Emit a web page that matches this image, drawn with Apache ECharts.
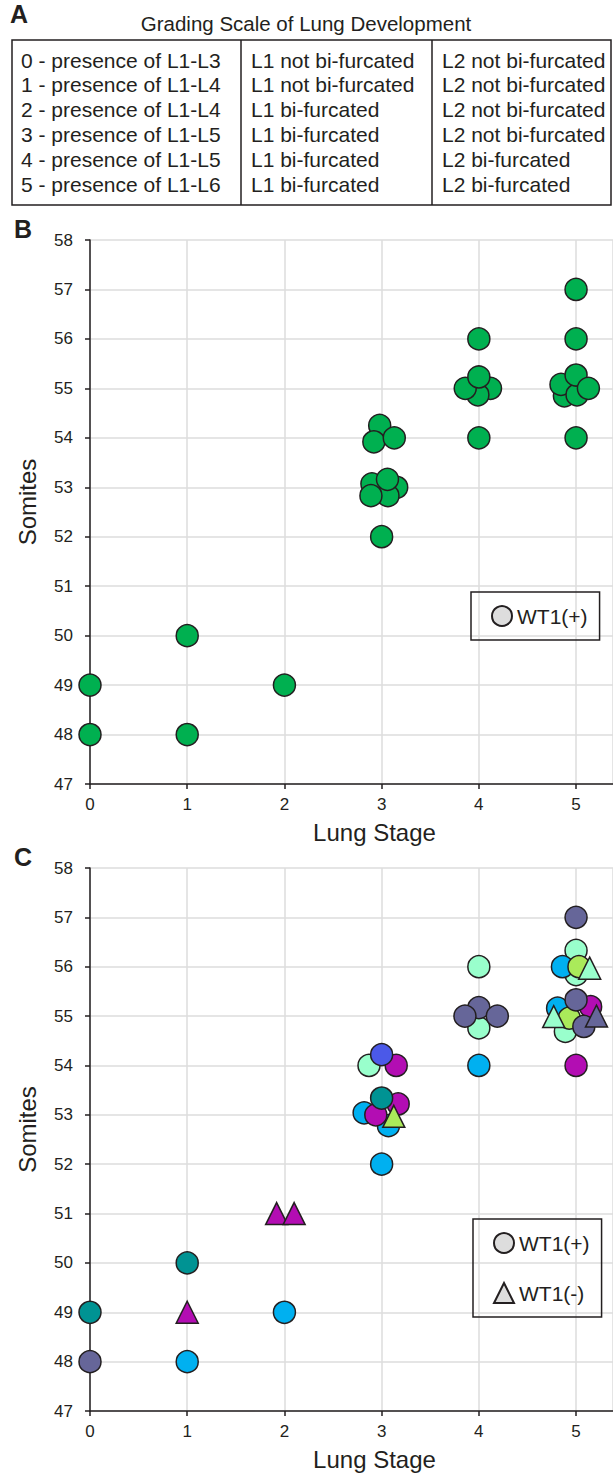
<!DOCTYPE html>
<html>
<head>
<meta charset="utf-8">
<script src="https://cdn.jsdelivr.net/npm/echarts@6/dist/echarts.min.js"></script>
<style>
html, body { margin: 0; padding: 0; background: #fff; }
#chart { width: 613px; height: 1476px; }
</style>
</head>
<body>
<div id="chart"></div>
<script>
// panel A: grading scale table
const tableTitle = 'Grading Scale of Lung Development';
const gradeText = ['0 - presence of L1-L3', '1 - presence of L1-L4', '2 - presence of L1-L4',
  '3 - presence of L1-L5', '4 - presence of L1-L5', '5 - presence of L1-L6'];
const l1Text = ['L1 not bi-furcated', 'L1 not bi-furcated', 'L1 bi-furcated',
  'L1 bi-furcated', 'L1 bi-furcated', 'L1 bi-furcated'];
const l2Text = ['L2 not bi-furcated', 'L2 not bi-furcated', 'L2 not bi-furcated',
  'L2 not bi-furcated', 'L2 bi-furcated', 'L2 bi-furcated'];

// axes
const stageTicks = [0, 1, 2, 3, 4, 5];
const somiteMin = 47;
const somiteMax = 58;

// panel B: all embryos WT1(+)  [lung stage, somites]
const wt1PosB = [
  [0, 49], [0, 48], [1, 50], [1, 48], [2, 49],
  [2.98, 54.25], [2.92, 53.92], [3.13, 54.0],
  [2.9, 53.07], [3.155, 53.0], [3.065, 52.83], [2.89, 52.83], [3.06, 53.16], [3, 52],
  [4, 56], [4.12, 55.0], [3.99, 54.87], [3.86, 55.0], [4, 55.23], [4, 54],
  [5, 57], [5, 56], [4.88, 54.85], [4.845, 55.08], [5.01, 54.87], [5, 55.27], [5.127, 55.0], [5, 54]
];

// panel C: circles = WT1(+), triangles = WT1(-), colour = litter
const mintCircle = [[2.87, 54.0], [4, 56], [4, 54.76], [5, 56.33], [5, 55.84], [4.89, 54.69]];
const blueCircle = [[1, 48], [2, 49], [2.82, 53.04], [3.07, 52.78], [3, 52], [4, 54], [4.86, 56.0], [4.81, 55.16]];
const magentaCircle = [[3.15, 54.0], [3.17, 53.22], [2.94, 53.0], [5.15, 55.19], [5, 54]];
const tealCircle = [[0, 49], [1, 50], [3.0, 53.34]];
const royalCircle = [[3.0, 54.22]];
const limeCircle = [[5.03, 56.0], [4.93, 54.96]];
const slateCircle = [[0, 48], [4, 55.17], [3.857, 55.0], [4.19, 55.0], [5, 57], [5, 55.33], [5.08, 54.79]];
const magentaTriangle = [[1, 49], [1.92, 51], [2.1, 51]];
const limeTriangle = [[3.125, 52.97]];
const mintTriangle = [[5.14, 55.97], [4.77, 54.99]];
const slateTriangle = [[5.21, 55.0]];

const FONT = '"Liberation Sans", Arial, sans-serif';
const INK = '#231f20';
const EDGE = { borderColor: INK, borderWidth: 1.5 };

let chartObj = echarts.init(document.getElementById('chart'), null, { renderer: 'svg' });

function xAxisFor(gridIndex) {
  return {
    gridIndex: gridIndex,
    type: 'value',
    min: 0,
    max: 5.38,
    interval: 1,
    name: 'Lung Stage',
    nameLocation: 'middle',
    nameGap: 36,
    nameTextStyle: { fontFamily: FONT, fontSize: 24, color: INK, padding: [0, 0, 0, 46] },
    axisLine: { lineStyle: { color: INK, width: 1.5 } },
    axisTick: { show: true, length: 5, lineStyle: { color: INK, width: 1.5 } },
    axisLabel: {
      fontFamily: FONT, fontSize: 17, color: INK, margin: 12, showMaxLabel: false,
      formatter: v => (stageTicks.indexOf(v) >= 0 ? String(v) : '')
    },
    splitLine: { show: true, lineStyle: { color: '#dcdcdc', width: 1.5 } }
  };
}

function yAxisFor(gridIndex) {
  return {
    gridIndex: gridIndex,
    type: 'value',
    min: somiteMin,
    max: somiteMax,
    interval: 1,
    name: 'Somites',
    nameLocation: 'middle',
    nameGap: 51,
    nameTextStyle: { fontFamily: FONT, fontSize: 24, color: INK, padding: [0, 0, 0, 20] },
    axisLine: { show: true, lineStyle: { color: INK, width: 1.5 } },
    axisTick: { show: true, length: 5, lineStyle: { color: INK, width: 1.5 } },
    axisLabel: { fontFamily: FONT, fontSize: 17, color: INK, margin: 17 },
    splitLine: { show: true, lineStyle: { color: '#dcdcdc', width: 1.5 } }
  };
}

function dots(name, data, color, symbol, gridIndex) {
  return {
    name: name,
    type: 'scatter',
    xAxisIndex: gridIndex,
    yAxisIndex: gridIndex,
    symbol: symbol,
    symbolSize: 22,
    data: data,
    itemStyle: Object.assign({ color: color, opacity: 1 }, EDGE),
    emphasis: { disabled: true },
    animation: false
  };
}

// table graphics
let tableGraphics = [
  { type: 'text', x: 10, y: 14, style: { text: 'A', font: 'bold 25px ' + FONT, fill: INK, verticalAlign: 'middle' } },
  { type: 'text', x: 306, y: 23, style: { text: tableTitle, font: '20.5px ' + FONT, fill: INK, align: 'center', verticalAlign: 'middle' } },
  { type: 'rect', shape: { x: 12, y: 40, width: 599, height: 165 }, style: { fill: 'none', stroke: INK, lineWidth: 1.5 } },
  { type: 'line', shape: { x1: 241, y1: 40, x2: 241, y2: 205 }, style: { stroke: INK, lineWidth: 1.5 } },
  { type: 'line', shape: { x1: 432, y1: 40, x2: 432, y2: 205 }, style: { stroke: INK, lineWidth: 1.5 } },
  { type: 'text', x: 14, y: 229, style: { text: 'B', font: 'bold 25px ' + FONT, fill: INK, verticalAlign: 'middle' } },
  { type: 'text', x: 14, y: 857, style: { text: 'C', font: 'bold 25px ' + FONT, fill: INK, verticalAlign: 'middle' } }
];
[gradeText, l1Text, l2Text].forEach((col, ci) => {
  const cx = [21, 251, 442][ci];
  col.forEach((t, ri) => {
    tableGraphics.push({
      type: 'text', x: cx, y: 60 + ri * 24.8,
      style: { text: t, font: '21px ' + FONT, fill: INK, verticalAlign: 'middle' }
    });
  });
});

let options = {
  backgroundColor: '#fff',
  animation: false,
  grid: [
    { left: 90, top: 240, right: 0, height: 544 },
    { left: 90, top: 868, right: 0, height: 543 }
  ],
  xAxis: [xAxisFor(0), xAxisFor(1)],
  yAxis: [yAxisFor(0), yAxisFor(1)],
  legend: [
    {
      data: ['WT1(+)'], left: 471, top: 592, orient: 'vertical',
      borderColor: INK, borderWidth: 1.5, borderRadius: 0, padding: [13, 12, 13, 20],
      itemWidth: 20, itemHeight: 20, selectedMode: false,
      textStyle: { fontFamily: FONT, fontSize: 21, color: INK }
    },
    {
      data: ['WT1(+)', 'WT1(-)'], left: 473, top: 1219, orient: 'vertical', itemGap: 28,
      borderColor: INK, borderWidth: 1.5, borderRadius: 0, padding: [13, 12, 13, 20],
      itemWidth: 20, itemHeight: 20, selectedMode: false,
      textStyle: { fontFamily: FONT, fontSize: 21, color: INK }
    }
  ],
  graphic: tableGraphics,
  series: [
    dots('WT1(+)', [], '#dddddd', 'circle', 1),
    dots('WT1(-)', [], '#dddddd', 'triangle', 1),
    dots('B WT1(+)', wt1PosB, '#00b050', 'circle', 0),
    dots('mint', mintCircle, '#99ffcc', 'circle', 1),
    dots('blue', blueCircle, '#00b0f0', 'circle', 1),
    dots('magenta', magentaCircle, '#b30db3', 'circle', 1),
    dots('teal', tealCircle, '#009393', 'circle', 1),
    dots('royal', royalCircle, '#4b59e8', 'circle', 1),
    dots('lime', limeCircle, '#aaea5a', 'circle', 1),
    dots('slate', slateCircle, '#666699', 'circle', 1),
    dots('magenta (-)', magentaTriangle, '#b30db3', 'triangle', 1),
    dots('lime (-)', limeTriangle, '#aaea5a', 'triangle', 1),
    dots('mint (-)', mintTriangle, '#99ffcc', 'triangle', 1),
    dots('slate (-)', slateTriangle, '#666699', 'triangle', 1)
  ]
};
chartObj.setOption(options);
</script>
</body>
</html>
